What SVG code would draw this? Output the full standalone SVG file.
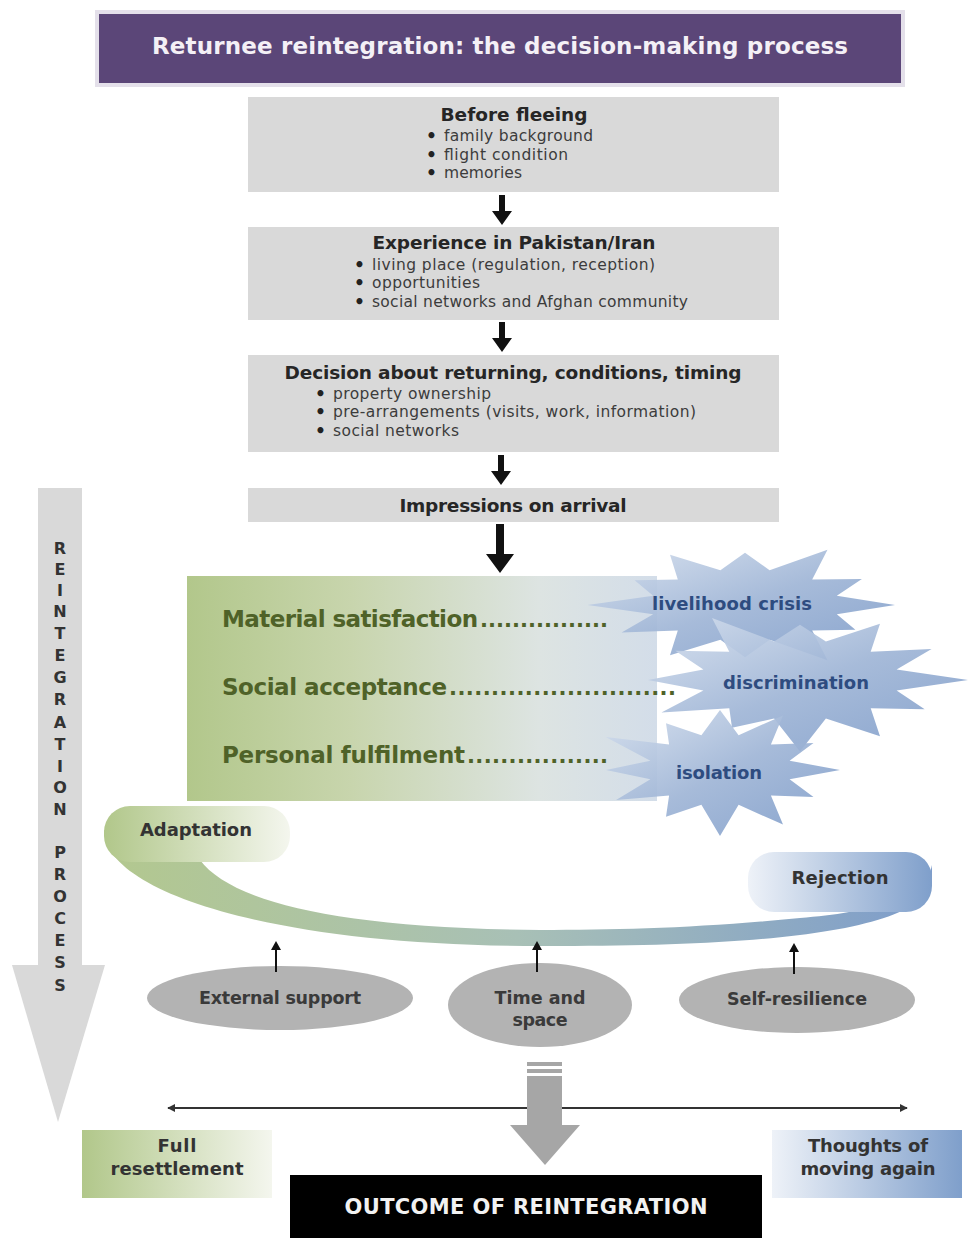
<svg xmlns="http://www.w3.org/2000/svg" width="969" height="1238" viewBox="0 0 969 1238">
<defs>
<style>
text{font-family:"DejaVu Sans","Verdana",sans-serif}
.box{fill:#d9d9d9}
.bt{font-size:18.5px;font-weight:bold;fill:#262626;text-anchor:middle}
.bl{font-size:15.5px;fill:#3c3c3c}
.bu{font-size:17px;font-weight:bold;fill:#222}
.gl{font-size:23px;font-weight:bold;fill:#4f6228}
.dots{font-size:21px;font-weight:bold;fill:#4f6228}
.st{font-size:18px;font-weight:bold;fill:#2e4c80;text-anchor:middle}
.el{fill:#b3b3b3}
.et{font-size:17.5px;font-weight:bold;fill:#3a3a3a;text-anchor:middle}
.pt{font-size:18px;font-weight:bold;fill:#333;text-anchor:middle}
.vl{font-size:16px;font-weight:bold;fill:#333;text-anchor:middle}
.ar{fill:#111}
.star{fill:url(#starG);stroke:none}
</style>
<linearGradient id="greenBox" x1="0" y1="0" x2="1" y2="0">
<stop offset="0" stop-color="#b2c78b"/>
<stop offset="0.35" stop-color="#c8d5ad"/>
<stop offset="0.75" stop-color="#dde4e2"/>
<stop offset="1" stop-color="#d3dde9"/>
</linearGradient>
<linearGradient id="starG" x1="0" y1="0" x2="1" y2="1">
<stop offset="0" stop-color="#d6e0ee"/>
<stop offset="0.5" stop-color="#9fb5d6"/>
<stop offset="1" stop-color="#7e9cc9"/>
</linearGradient>
<linearGradient id="band" x1="100" y1="0" x2="935" y2="0" gradientUnits="userSpaceOnUse">
<stop offset="0" stop-color="#b3c88e"/>
<stop offset="0.5" stop-color="#a8c0b6"/>
<stop offset="1" stop-color="#7d9ccb"/>
</linearGradient>
<linearGradient id="gw" x1="0" y1="0" x2="1" y2="0">
<stop offset="0" stop-color="#b1c78a"/>
<stop offset="1" stop-color="#f4f6ee"/>
</linearGradient>
<linearGradient id="wb" x1="0" y1="0" x2="1" y2="0">
<stop offset="0" stop-color="#eef2f8"/>
<stop offset="1" stop-color="#7f9fcb"/>
</linearGradient>
<marker id="ah" viewBox="0 0 10 10" refX="9" refY="5" markerWidth="4" markerHeight="4" orient="auto-start-reverse">
<path d="M0,0 L10,5 L0,10 Z" fill="#333"/>
</marker>
</defs>
<rect width="969" height="1238" fill="#ffffff"/>

<g id="title">
<rect x="95" y="10" width="810" height="77" fill="#e4e0ea"/>
<rect x="99" y="14" width="802" height="69" fill="#5b4678"/>
<text x="500" y="54" font-size="23" font-weight="bold" fill="#f4f0f6" text-anchor="middle" textLength="696">Returnee reintegration: the decision-making process</text>
</g>

<g id="process-arrow">
<rect x="38" y="488" width="44" height="478" fill="#d9d9d9"/>
<polygon points="12,965 105,965 58,1122" fill="#d9d9d9"/>
<text class="vl"><tspan x="60" y="554">R</tspan><tspan x="60" y="575">E</tspan><tspan x="60" y="596">I</tspan><tspan x="60" y="617">N</tspan><tspan x="60" y="639">T</tspan><tspan x="60" y="661">E</tspan><tspan x="60" y="683">G</tspan><tspan x="60" y="705">R</tspan><tspan x="60" y="728">A</tspan><tspan x="60" y="750">T</tspan><tspan x="60" y="772">I</tspan><tspan x="60" y="793">O</tspan><tspan x="60" y="815">N</tspan><tspan x="60" y="858">P</tspan><tspan x="60" y="880">R</tspan><tspan x="60" y="902">O</tspan><tspan x="60" y="924">C</tspan><tspan x="60" y="946">E</tspan><tspan x="60" y="968">S</tspan><tspan x="60" y="991">S</tspan></text>
</g>

<g id="before-fleeing">
<rect class="box" x="248" y="97" width="531" height="95"/>
<text class="bt" x="514" y="121" textLength="147">Before fleeing</text>
<text class="bu" x="426" y="142">•</text><text class="bl" x="444" y="141" textLength="149">family background</text>
<text class="bu" x="426" y="161">•</text><text class="bl" x="444" y="160" textLength="124">flight condition</text>
<text class="bu" x="426" y="179">•</text><text class="bl" x="444" y="178" textLength="78">memories</text>
</g>

<g id="experience">
<rect class="box" x="248" y="227" width="531" height="93"/>
<text class="bt" x="514" y="249" textLength="283">Experience in Pakistan/Iran</text>
<text class="bu" x="354" y="271">•</text><text class="bl" x="372" y="270" textLength="283">living place (regulation, reception)</text>
<text class="bu" x="354" y="289">•</text><text class="bl" x="372" y="288" textLength="108">opportunities</text>
<text class="bu" x="354" y="308">•</text><text class="bl" x="372" y="307" textLength="316">social networks and Afghan community</text>
</g>

<g id="decision">
<rect class="box" x="248" y="355" width="531" height="97"/>
<text class="bt" x="513" y="379" textLength="457">Decision about returning, conditions, timing</text>
<text class="bu" x="315" y="400">•</text><text class="bl" x="333" y="399" textLength="158">property ownership</text>
<text class="bu" x="315" y="418">•</text><text class="bl" x="333" y="417" textLength="363">pre-arrangements (visits, work, information)</text>
<text class="bu" x="315" y="437">•</text><text class="bl" x="333" y="436" textLength="126">social networks</text>
</g>

<g id="impressions">
<rect class="box" x="248" y="488" width="531" height="34"/>
<text class="bt" x="513" y="512" textLength="227">Impressions on arrival</text>
</g>

<g id="satisfaction-panel">
<rect x="187" y="576" width="470" height="225" fill="url(#greenBox)"/>
<text class="gl" x="222" y="627" textLength="256">Material satisfaction</text>
<text class="dots" x="480" y="627" textLength="128">................</text>
<text class="gl" x="222" y="695" textLength="225">Social acceptance</text>
<text class="dots" x="449" y="695" textLength="227">...........................</text>
<text class="gl" x="222" y="763" textLength="243">Personal fulfilment</text>
<text class="dots" x="467" y="763" textLength="141">.................</text>
</g>

<g id="livelihood-crisis">
<polygon class="star" points="895,605 836.8,614.3 855.4,629.7 812.2,630.5 827.5,660.2 769.6,639.8 745,657.2 720.4,639.8 670,655.2 677.8,630.5 621.6,632.6 653.2,614.3 587.5,605 653.2,595.7 634.6,580.3 677.8,579.5 670,554.8 720.4,570.2 745,552.8 769.6,570.2 827.5,549.8 812.2,579.5 861.9,578.9 836.8,595.7" opacity="0.92"/>
<text class="st" x="732" y="610" textLength="160">livelihood crisis</text>
</g>

<g id="discrimination">
<polygon class="star" points="968,680 896.6,690.4 924.7,709.3 870.7,708.3 880,736.3 825.9,718.6 800,751.5 774.1,718.6 732,727.8 729.3,708.3 661.4,712.5 703.4,690.4 648,680 703.4,669.6 675.3,650.7 729.3,651.7 712,618.1 774.1,641.4 800,624.8 825.9,641.4 880,623.7 870.7,651.7 931.6,649.1 896.6,669.6" opacity="0.92"/>
<text class="st" x="796" y="689" textLength="146">discrimination</text>
</g>

<g id="isolation">
<polygon class="star" points="840,770 789.6,779.3 813.5,797 770.9,795.5 783,824.6 738.6,804.8 720,836 701.4,804.8 666,816.8 669.1,795.5 616.1,800 650.4,779.3 606,770 650.4,760.7 605.7,737 669.1,744.5 666,723.2 701.4,735.2 720,710 738.6,735.2 783,715.4 770.9,744.5 813.5,743 789.6,760.7" opacity="0.92"/>
<text class="st" x="719" y="779" textLength="86">isolation</text>
</g>

<g id="adaptation-rejection-band">
<path d="M104,830 C104,890 265,946 540,946 C760,947 925,932 932,880 L932,865 C925,900 870,912 800,918 C700,928 620,930 540,930 C330,928 230,900 200,860 Z" fill="url(#band)"/>
</g>

<g id="adaptation">
<rect x="104" y="806" width="186" height="56" rx="26" fill="url(#gw)"/>
<text class="pt" x="196" y="836" textLength="112">Adaptation</text>
</g>

<g id="rejection">
<rect x="748" y="852" width="184" height="60" rx="26" fill="url(#wb)"/>
<text class="pt" x="840" y="884" textLength="97">Rejection</text>
</g>

<g id="external-support">
<ellipse class="el" cx="280" cy="998" rx="133" ry="32"/>
<text class="et" x="280" y="1004" textLength="162">External support</text>
</g>

<g id="time-and-space">
<ellipse class="el" cx="540" cy="1005" rx="92" ry="42"/>
<text class="et" x="540" y="1004" textLength="91">Time and</text>
<text class="et" x="540" y="1026" textLength="55">space</text>
</g>

<g id="self-resilience">
<ellipse class="el" cx="797" cy="1000" rx="118" ry="33"/>
<text class="et" x="797" y="1005" textLength="140">Self-resilience</text>
</g>

<g id="full-resettlement">
<rect x="82" y="1130" width="190" height="68" fill="url(#gw)"/>
<text class="pt" x="177" y="1152" textLength="39">Full</text>
<text class="pt" x="177" y="1175" textLength="133">resettlement</text>
</g>

<g id="thoughts-moving">
<rect x="772" y="1130" width="190" height="68" fill="url(#wb)"/>
<text class="pt" x="868" y="1152" textLength="120">Thoughts of</text>
<text class="pt" x="868" y="1175" textLength="135">moving again</text>
</g>

<g id="outcome">
<rect x="290" y="1175" width="472" height="63" fill="#000000"/>
<text x="526" y="1214" font-size="21" font-weight="bold" fill="#f2f2f2" text-anchor="middle" textLength="363">OUTCOME OF REINTEGRATION</text>
</g>

<g id="connectors">
<path class="ar" d="M499,195 h6 v16 h7 l-10,14 l-10,-14 h7 z"/>
<path class="ar" d="M499,322 h6 v16 h7 l-10,14 l-10,-14 h7 z"/>
<path class="ar" d="M498,455 h6 v16 h7 l-10,14 l-10,-14 h7 z"/>
<path class="ar" d="M496,524 h8 v30 h10 l-14,19 l-14,-19 h10 z"/>
<path class="ar" d="M275,972 v-22 h-4 l5,-9 l5,9 h-4 v22 z"/>
<path class="ar" d="M536,972 v-22 h-4 l5,-9 l5,9 h-4 v22 z"/>
<path class="ar" d="M793,974 v-22 h-4 l5,-9 l5,9 h-4 v22 z"/>
<line x1="168" y1="1108" x2="907" y2="1108" stroke="#333" stroke-width="2" marker-start="url(#ah)" marker-end="url(#ah)"/>
<g fill="#a6a6a6">
<rect x="527" y="1062" width="35" height="4"/>
<rect x="527" y="1069" width="35" height="4"/>
<rect x="527" y="1076" width="35" height="50"/>
<polygon points="510,1125 580,1125 545,1165"/>
</g>
</g>
</svg>
